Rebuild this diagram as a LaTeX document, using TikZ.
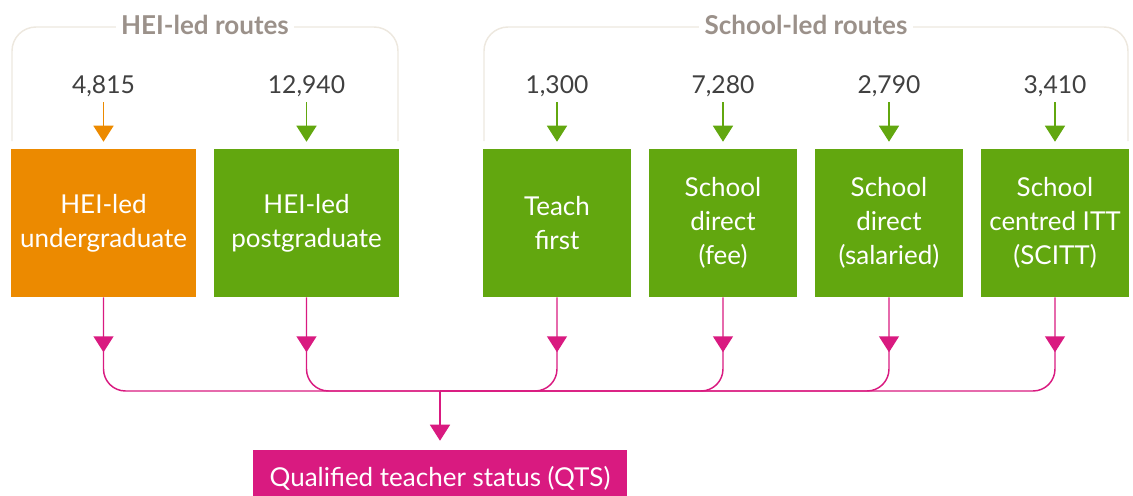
\documentclass[tikz,border=0pt]{standalone}
\usepackage{fontspec}
\setmainfont{Lato}
\usetikzlibrary{arrows.meta,decorations.markings}

\definecolor{heiorange}{HTML}{EC8A00}
\definecolor{routegreen}{HTML}{62A70F}
\definecolor{qtspink}{HTML}{D91A80}
\definecolor{titlegrey}{HTML}{9B918A}
\definecolor{bracketgrey}{HTML}{EDE8DF}
\definecolor{countgrey}{HTML}{404040}

\begin{document}
\begin{tikzpicture}[x=0.75pt,y=-0.75pt,
    route/.style={fill=routegreen,text=white,minimum height=111pt,inner sep=0pt,
      align=center,font=\fontsize{19.5}{25.5}\selectfont},
    wideroute/.style={route,minimum width=138.75pt},
    narrowroute/.style={route,minimum width=111pt},
    count/.style={anchor=base,inner sep=0pt,text depth=0pt,text=countgrey,
      font=\fontsize{18.5}{22}\selectfont},
    countarrow/.style={draw=routegreen,line width=1.1pt,shorten <=6.75pt,shorten >=5.25pt,
      -{Triangle[width=15pt,length=12pt]}},
    grouptitle/.style={fill=white,inner xsep=4pt,text=titlegrey,
      font=\fontsize{19.5}{22}\selectfont\bfseries},
    bracket/.style={draw=bracketgrey,line width=1.1pt,rounded corners=18pt},
    qline/.style={draw=qtspink,line width=1.1pt,rounded corners=16.5pt,
      postaction={decorate},decoration={markings,
        mark=at position 41.25pt with {\arrow{Triangle[width=15pt,length=12pt]}}}},
    qarrow/.style={draw=qtspink,line width=1.1pt,shorten >=6.75pt,
      -{Triangle[width=15pt,length=12pt]}}]
  \useasboundingbox (0,0) rectangle (1133,496);

  % group brackets
  \draw[bracket] (12,141) |- (205,27) -| (398,141);
  \node[grouptitle] (hei) at (205,25) {HEI-led routes};
  \draw[bracket] (484,141) |- (806,27) -| (1128,141);
  \node[grouptitle] (school) at (806,25) {School-led routes};

  % routes
  \node[wideroute,fill=heiorange] (ug) at (103.5,223) {HEI-led\\undergraduate};
  \node[wideroute] (pg) at (306.5,223) {HEI-led\\postgraduate};
  \node[narrowroute] (tf) at (557,223) {Teach\\first};
  \node[narrowroute] (sdf) at (723,223) {School\\direct\\(fee)};
  \node[narrowroute] (sds) at (889,223) {School\\direct\\(salaried)};
  \node[narrowroute] (scitt) at (1055,223) {School\\centred ITT\\(SCITT)};

  % trainee numbers
  \node[count] (nug) at (103.5,93) {4,815};
  \node[count] (npg) at (306.5,93) {12,940};
  \node[count] (ntf) at (557,93) {1,300};
  \node[count] (nsdf) at (723,93) {7,280};
  \node[count] (nsds) at (889,93) {2,790};
  \node[count] (nscitt) at (1055,93) {3,410};

  \draw[countarrow,draw=heiorange] (nug) -- (ug);
  \draw[countarrow] (npg) -- (pg);
  \draw[countarrow] (ntf) -- (tf);
  \draw[countarrow] (nsdf) -- (sdf);
  \draw[countarrow] (nsds) -- (sds);
  \draw[countarrow] (nscitt) -- (scitt);

  % qualified teacher status
  \node[fill=qtspink,text=white,minimum width=280.5pt,minimum height=42pt,
    font=\fontsize{19.5}{22}\selectfont] (qts) at (440,478) {Qualified teacher status (QTS)};
  \coordinate (join) at (440,391);

  \draw[qline] (ug) |- (join);
  \draw[qline] (pg) |- (join);
  \draw[qline] (tf) |- (join);
  \draw[qline] (sdf) |- (join);
  \draw[qline] (sds) |- (join);
  \draw[qline] (scitt) |- (join);
  \draw[qarrow] (join) -- (qts);
\end{tikzpicture}
\end{document}
